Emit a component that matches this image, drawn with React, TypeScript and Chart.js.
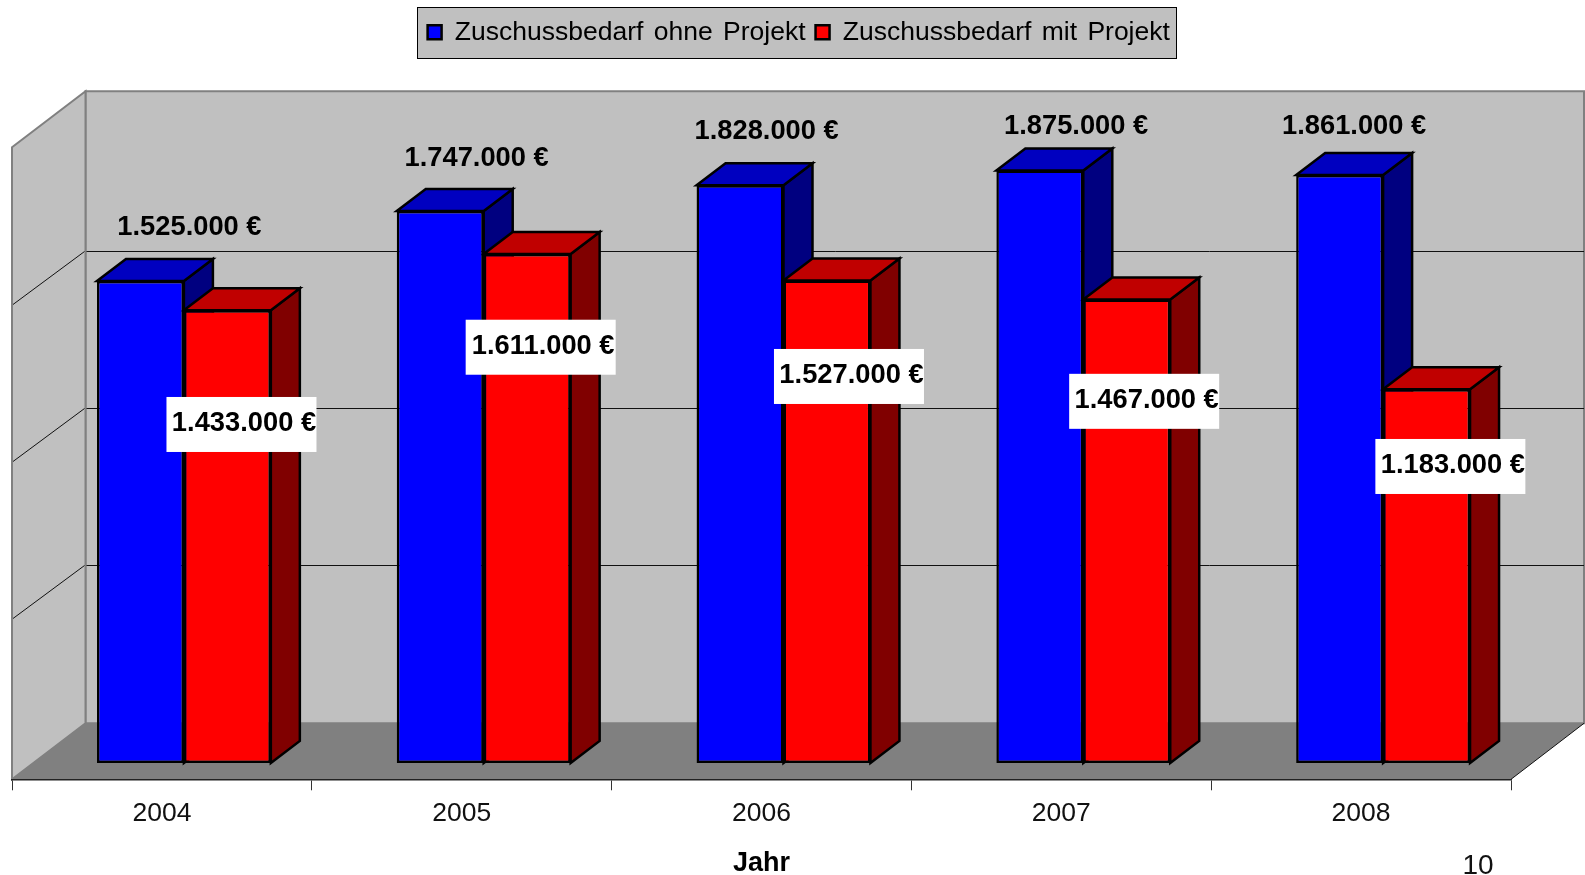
import React, { useEffect, useRef } from "react";
import { Chart, registerables } from "chart.js";

Chart.register(...registerables);

const years = ["2004", "2005", "2006", "2007", "2008"];
const ohneProjekt = [1525000, 1747000, 1828000, 1875000, 1861000];
const mitProjekt = [1433000, 1611000, 1527000, 1467000, 1183000];
const gridValues = [500000, 1000000, 1500000];
const seriesNames = ["Zuschussbedarf ohne Projekt", "Zuschussbedarf mit Projekt"];
const pageNumber = "10";
const axisTitle = "Jahr";

const FONT = "'Liberation Sans', Arial, sans-serif";
const BAR_SHIFT = { x: 22, y: -16.3 };
const DEPTH = { x: 29, y: -22 };
const BACK = { x: 73.5, y: -56 };
const SIDE_GRID_DY = 53;
const GRID_SCALE = 0.996;
const WORD_SPACING = "3px";
const topColors = ["#0000C0", "#C00000"];
const sideColors = ["#000080", "#800000"];
const blueLabelOffsets = [[49, -53.7], [36.4, -52.2], [26.6, -53.9], [36.3, -44.2], [14.5, -48.6]];
const redLabelOffsets = [[14.1, 114.3], [13.5, 93.3], [22, 96], [17.4, 101.9], [23.8, 77.3]];

const fmt = (v: number) => v.toString().replace(/\B(?=(\d{3})+$)/g, ".") + " €";

function poly(ctx: CanvasRenderingContext2D, pts: number[][], fill?: string, stroke?: string, lw = 1) {
  ctx.beginPath();
  pts.forEach((p, i) => (i ? ctx.lineTo(p[0], p[1]) : ctx.moveTo(p[0], p[1])));
  ctx.closePath();
  if (fill) {
    ctx.fillStyle = fill;
    ctx.fill();
  }
  if (stroke) {
    ctx.strokeStyle = stroke;
    ctx.lineWidth = lw;
    ctx.lineJoin = "miter";
    ctx.stroke();
  }
}

const plugin3d = {
  id: "plugin3d",
  beforeLayout(chart: any) {
    chart.ctx.wordSpacing = WORD_SPACING;
    const legend = chart.legend;
    if (legend && !legend.__wrapped) {
      const fit = legend.fit.bind(legend);
      legend.fit = () => {
        fit();
        legend.height = 147.3;
      };
      legend.__wrapped = true;
    }
  },
  afterLayout(chart: any) {
    const legend = chart.legend;
    legend.left = 417.6;
    legend.right = 1300;
    legend.top = 9;
  },
  beforeDraw(chart: any) {
    const ctx = chart.ctx as CanvasRenderingContext2D;
    ctx.wordSpacing = WORD_SPACING;
    const { left, right, top, bottom } = chart.chartArea;
    const y = chart.scales.y;
    ctx.save();
    ctx.fillStyle = "#fff";
    ctx.fillRect(0, 0, chart.width, chart.height);

    // legend frame
    ctx.fillStyle = "#C0C0C0";
    ctx.fillRect(417.5, 7.5, 759, 51);
    ctx.strokeStyle = "#000";
    ctx.lineWidth = 1;
    ctx.strokeRect(417.5, 7.5, 759, 51);

    const backLeft = left + BACK.x;
    const backRight = right + BACK.x - 0.5;
    const backTop = top + BACK.y;
    const backBottom = bottom + BACK.y;

    poly(ctx, [[backLeft, backTop], [backRight, backTop], [backRight, backBottom], [backLeft, backBottom]], "#C0C0C0", "#808080", 2);
    poly(ctx, [[left, top], [backLeft, backTop], [backLeft, backBottom], [left, bottom]], "#C0C0C0", "#808080", 2);

    poly(ctx, [[left, bottom], [backLeft, backBottom], [backRight, backBottom], [right, bottom]], "#808080");

    ctx.strokeStyle = "#111";
    ctx.lineWidth = 1;
    ctx.beginPath();
    ctx.moveTo(right, bottom);
    ctx.lineTo(backRight, backBottom);
    gridValues.forEach((v) => {
      const gy = Math.floor(backBottom - (bottom - y.getPixelForValue(v)) * GRID_SCALE) + 0.5;
      ctx.moveTo(backLeft - 1, gy);
      ctx.lineTo(left + 1, gy + SIDE_GRID_DY);
      ctx.moveTo(backLeft + 1, gy);
      ctx.lineTo(backRight, gy);
    });
    ctx.stroke();
    ctx.restore();
  },
  beforeDatasetsDraw(chart: any) {
    const ctx = chart.ctx as CanvasRenderingContext2D;
    ctx.save();
    ctx.translate(BAR_SHIFT.x, BAR_SHIFT.y);
    years.forEach((_, j) => {
      [0, 1].forEach((i) => {
        const bar = chart.getDatasetMeta(i).data[j];
        const l = bar.x - bar.width / 2;
        const r = bar.x + bar.width / 2;
        const t = bar.y;
        const b = bar.base;
        poly(ctx, [[r, b], [r + DEPTH.x, b + DEPTH.y], [r + DEPTH.x, t + DEPTH.y], [r, t]], sideColors[i], "#000", 2.5);
        poly(ctx, [[l, t], [l + DEPTH.x, t + DEPTH.y], [r + DEPTH.x, t + DEPTH.y], [r, t]], topColors[i], "#000", 2.5);
      });
    });
  },
  afterDatasetsDraw(chart: any) {
    const ctx = chart.ctx as CanvasRenderingContext2D;
    ctx.restore();
    ctx.save();
    ctx.wordSpacing = "0px";
    ctx.font = `bold 27.3px ${FONT}`;
    ctx.textAlign = "center";
    ctx.textBaseline = "middle";
    years.forEach((_, j) => {
      const blue = chart.getDatasetMeta(0).data[j];
      const red = chart.getDatasetMeta(1).data[j];
      ctx.fillStyle = "#000";
      ctx.fillText(
        fmt(ohneProjekt[j]),
        blue.x + BAR_SHIFT.x + blueLabelOffsets[j][0],
        blue.y + BAR_SHIFT.y + blueLabelOffsets[j][1]
      );
      const cx = red.x + BAR_SHIFT.x + redLabelOffsets[j][0];
      const cy = red.y + BAR_SHIFT.y + redLabelOffsets[j][1];
      ctx.fillStyle = "#fff";
      ctx.fillRect(cx - 75, cy - 27.5, 150, 55);
      ctx.fillStyle = "#000";
      ctx.fillText(fmt(mitProjekt[j]), cx + 2.5, cy - 0.5);
    });
    ctx.font = `28px ${FONT}`;
    ctx.fillStyle = "#111";
    ctx.fillText(pageNumber, 1478, 866);
    ctx.restore();
  },
};

export default function App() {
  const ref = useRef<HTMLCanvasElement | null>(null);
  useEffect(() => {
    if (!ref.current) return;
    const chart = new Chart(ref.current, {
      type: "bar",
      data: {
        labels: years,
        datasets: [
          { label: seriesNames[0], data: ohneProjekt, backgroundColor: "#0000FF", borderColor: "#000", borderWidth: 2.5, borderSkipped: false, clip: false },
          { label: seriesNames[1], data: mitProjekt, backgroundColor: "#FF0000", borderColor: "#000", borderWidth: 2.5, borderSkipped: false, clip: false },
        ],
      } as any,
      options: {
        animation: false,
        responsive: false,
        font: { family: FONT },
        layout: { padding: { left: 12, right: 74, top: 0, bottom: 0 } },
        datasets: { bar: { categoryPercentage: 0.58, barPercentage: 1 } },
        plugins: {
          tooltip: { enabled: false },
          legend: {
            position: "top",
            align: "start",
            labels: {
              boxWidth: 14,
              boxHeight: 14,
              padding: 10,
              color: "#000",
              font: { family: FONT, size: 26.5 },
            },
          },
        },
        scales: {
          y: { display: false, min: 0, max: 2000000 },
          x: {
            afterFit(s: any) {
              s.height = 95.7;
            },
            border: { display: true, color: "#222", width: 1.5 },
            grid: { drawOnChartArea: false, drawTicks: true, tickLength: 11, color: "#333", lineWidth: 1 },
            ticks: { color: "#111", padding: 7, font: { family: FONT, size: 26.5 } },
            title: {
              display: true,
              text: axisTitle,
              color: "#000",
              padding: { top: 0, bottom: -5 },
              font: { family: FONT, size: 27, weight: "bold" },
            },
          },
        },
      } as any,
      plugins: [plugin3d as any],
    });
    return () => chart.destroy();
  }, []);
  return (
    <canvas
      ref={ref}
      width={1585}
      height={875}
      style={{ position: "absolute", left: 0, top: 0, width: 1585, height: 875, display: "block" }}
    />
  );
}
